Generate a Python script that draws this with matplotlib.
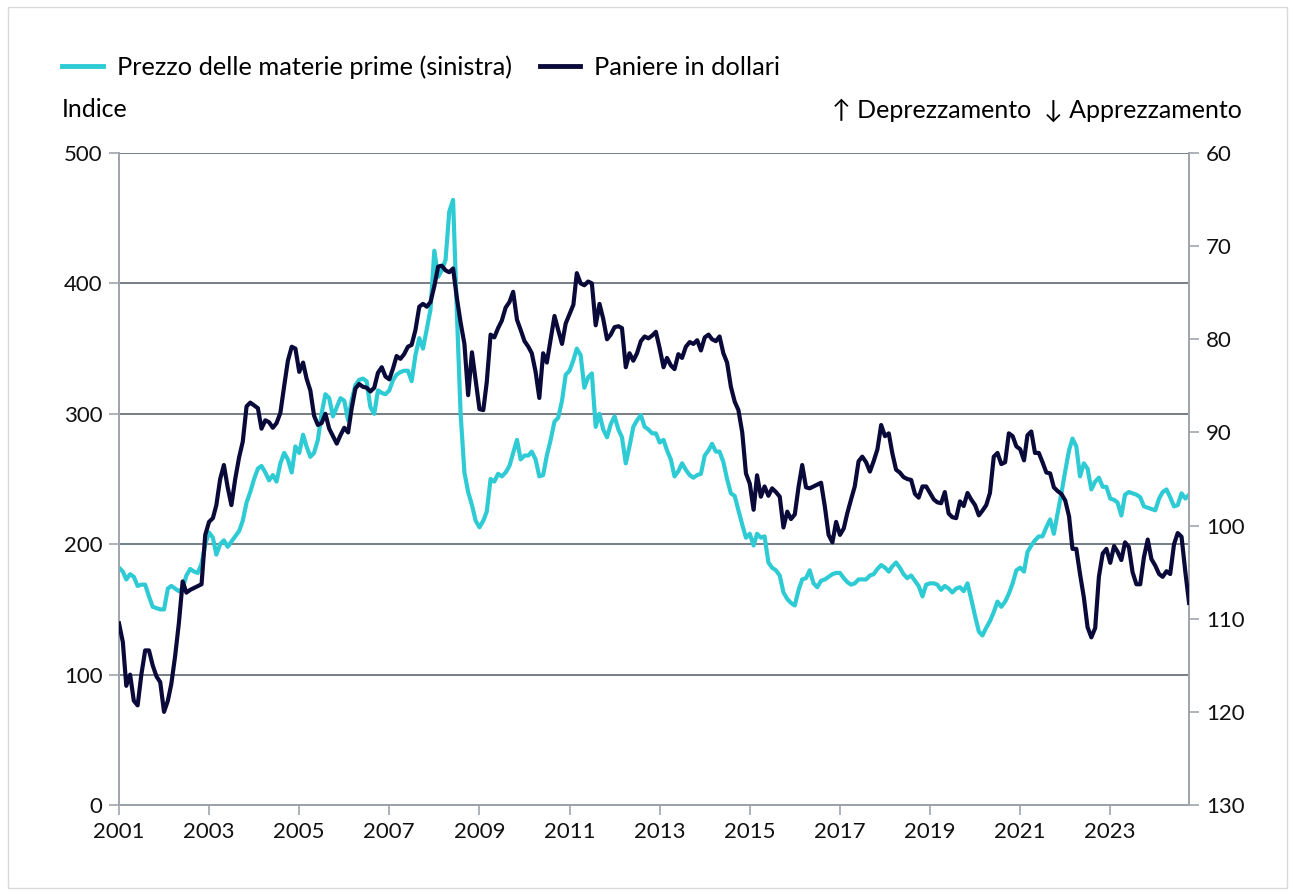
import numpy as np
import pandas as pd
import matplotlib
matplotlib.use("agg")
import matplotlib.pyplot as plt
import matplotlib.dates as mdates
from matplotlib.lines import Line2D

plt.rcParams["font.family"] = ["Lato", "DejaVu Sans"]

# monthly values, Jan 2001 - Oct 2024
COMMODITY = [
	182, 179, 173, 177, 175, 168, 169, 169, 160, 152, 151, 150,   # 2001
	150, 166, 168, 166, 164, 166, 176, 181, 179, 178, 185, 200,   # 2002
	209, 205, 192, 200, 203, 198, 202, 206, 210, 218, 232, 240,   # 2003
	250, 258, 260, 255, 249, 253, 248, 262, 270, 265, 255, 275,   # 2004
	270, 284, 275, 267, 270, 280, 300, 315, 312, 298, 305, 312,   # 2005
	310, 295, 310, 322, 326, 327, 325, 305, 300, 318, 316, 315,   # 2006
	318, 326, 330, 332, 333, 333, 325, 345, 358, 350, 365, 380,   # 2007
	425, 405, 410, 418, 455, 464, 380, 300, 255, 240, 230, 218,   # 2008
	213, 218, 225, 250, 248, 254, 252, 255, 260, 270, 280, 265,   # 2009
	268, 268, 271, 265, 252, 253, 268, 280, 294, 297, 310, 330,   # 2010
	333, 341, 350, 345, 320, 328, 331, 290, 300, 288, 282, 292,   # 2011
	298, 288, 282, 262, 275, 290, 295, 299, 290, 288, 285, 285,   # 2012
	278, 280, 272, 265, 252, 256, 262, 257, 253, 251, 253, 254,   # 2013
	268, 272, 277, 271, 271, 263, 250, 239, 237, 226, 215, 205,   # 2014
	208, 199, 208, 205, 206, 186, 182, 180, 176, 163, 158, 155,   # 2015
	153, 165, 173, 174, 180, 170, 167, 172, 173, 175, 177, 178,   # 2016
	178, 174, 171, 169, 170, 173, 173, 173, 176, 177, 181, 184,   # 2017
	182, 179, 183, 186, 182, 177, 174, 176, 172, 168, 160, 169,   # 2018
	170, 170, 169, 165, 168, 166, 163, 166, 167, 164, 170, 158,   # 2019
	145, 133, 130, 136, 141, 148, 156, 152, 156, 162, 170, 180,   # 2020
	182, 179, 194, 199, 203, 206, 206, 213, 219, 208, 224, 239,   # 2021
	256, 272, 281, 275, 252, 262, 258, 242, 248, 251, 244, 244,   # 2022
	235, 234, 232, 222, 238, 240, 239, 238, 236, 229, 228, 227,   # 2023
	226, 235, 240, 242, 236, 229, 230, 239, 235, 238,             # 2024
]

DOLLAR_BASKET = [
	110.5, 112.5, 117.2, 116.0, 118.8, 119.3, 116.0, 113.4, 113.4, 115.0, 116.2, 116.8,   # 2001
	120.0, 118.8, 117.0, 114.0, 110.5, 106.0, 107.2, 106.9, 106.7, 106.5, 106.3, 101.0,   # 2002
	99.6, 99.2, 97.8, 95.0, 93.5, 95.9, 97.8, 95.0, 92.7, 91.0, 87.2, 86.8,   # 2003
	87.1, 87.4, 89.6, 88.7, 88.9, 89.5, 89.0, 87.9, 85.0, 82.3, 80.8, 81.0,   # 2004
	83.5, 82.5, 84.2, 85.5, 88.2, 89.2, 89.0, 88.0, 89.6, 90.4, 91.2, 90.3,   # 2005
	89.5, 90.0, 87.5, 85.3, 84.8, 85.1, 85.2, 85.6, 85.2, 83.6, 83.0, 84.0,   # 2006
	84.3, 83.1, 81.8, 82.1, 81.6, 80.8, 80.6, 79.0, 76.5, 76.2, 76.5, 76.0,   # 2007
	74.3, 72.2, 72.1, 72.6, 72.8, 72.4, 75.5, 78.2, 80.5, 86.0, 81.4, 84.4,   # 2008
	87.5, 87.6, 84.6, 79.5, 79.8, 78.8, 78.0, 76.6, 76.0, 74.9, 77.9, 79.0,   # 2009
	80.2, 80.8, 81.5, 83.5, 86.3, 81.5, 82.5, 80.0, 77.5, 79.0, 80.5, 78.3,   # 2010
	77.3, 76.3, 72.9, 74.0, 74.2, 73.8, 74.0, 78.5, 76.2, 77.8, 80.0, 79.5,   # 2011
	78.7, 78.6, 78.8, 83.0, 81.5, 82.3, 81.5, 80.2, 79.7, 79.9, 79.6, 79.2,   # 2012
	81.0, 83.0, 82.0, 82.8, 83.2, 81.6, 82.0, 80.8, 80.3, 80.5, 80.1, 81.2,   # 2013
	79.8, 79.5, 80.0, 80.2, 79.7, 81.5, 82.5, 85.1, 86.7, 87.6, 90.0, 94.4,   # 2014
	95.5, 98.3, 94.6, 96.9, 95.8, 96.8, 96.0, 96.4, 96.9, 100.2, 98.5, 99.3,   # 2015
	98.8, 95.8, 93.5, 95.9, 96.0, 95.8, 95.6, 95.4, 98.0, 101.0, 101.8, 99.6,   # 2016
	101.0, 100.3, 98.7, 97.2, 95.8, 93.1, 92.6, 93.2, 94.2, 93.1, 91.8, 89.2,   # 2017
	90.4, 90.1, 92.2, 94.0, 94.3, 94.8, 95.0, 95.1, 96.6, 97.0, 95.8, 95.8,   # 2018
	96.5, 97.2, 97.5, 97.6, 96.4, 98.7, 99.1, 99.2, 97.4, 97.9, 96.5, 97.2,   # 2019
	97.8, 98.9, 98.4, 97.8, 96.5, 92.6, 92.2, 93.4, 93.2, 90.1, 90.4, 91.5,   # 2020
	91.8, 93.0, 90.3, 89.9, 92.2, 92.2, 93.2, 94.3, 94.4, 95.9, 96.3, 96.6,   # 2021
	97.3, 99.0, 102.5, 102.5, 105.2, 107.7, 110.9, 112.0, 111.0, 105.5, 103.0, 102.5,   # 2022
	104.0, 102.2, 102.8, 103.7, 101.8, 102.3, 105.0, 106.3, 106.3, 103.4, 101.5, 103.6,   # 2023
	104.3, 105.2, 105.5, 104.9, 105.2, 102.0, 100.8, 101.2, 105.0, 108.3,   # 2024
]

DATES = pd.date_range("2001-01-01", periods=len(COMMODITY), freq="MS")
TICK_YEARS = list(range(2001, 2024, 2))

CYAN = "#2ecbd4"
NAVY = "#0a0a3a"
GREY = "#6b737c"

fig = plt.figure(figsize=(12.95, 8.93), dpi=100)
ax = fig.add_axes([0.0919, 0.0985, 0.8263, 0.7302])
ax2 = ax.twinx()

ax.plot(DATES, COMMODITY, color=CYAN, lw=3, zorder=3)
ax2.plot(DATES, DOLLAR_BASKET, color=NAVY, lw=3, zorder=3)

ax.set_ylim(0, 500)
ax.set_yticks(range(0, 501, 100))
ax2.set_ylim(130, 60)
ax2.set_yticks(range(60, 131, 10))
ax.set_xlim(DATES[0], DATES[-1])
ax.set_xticks([pd.Timestamp(f"{y}-01-01") for y in TICK_YEARS])
ax.xaxis.set_major_formatter(mdates.DateFormatter("%Y"))

ax.grid(axis="y", color=GREY, lw=1.3)
ax.set_axisbelow(True)
for a in (ax, ax2):
	a.spines["top"].set_visible(False)
	for s in ("left", "right", "bottom"):
		a.spines[s].set_color("#a0a6ad")
		a.spines[s].set_linewidth(1.3)
	a.tick_params(colors="#a0a6ad", labelcolor="#111111", labelsize=16, length=7, width=1.2, pad=5)
ax.spines["bottom"].set_color(GREY)
ax.tick_params(axis="x", pad=5)

# legend on top
handles = [Line2D([], [], color=CYAN, lw=3.5), Line2D([], [], color=NAVY, lw=3.5)]
fig.legend(handles, ["Prezzo delle materie prime (sinistra)", "Paniere in dollari"],
	loc="center left", bbox_to_anchor=(0.0479, 0.925), ncol=2, frameon=False,
	borderpad=0, borderaxespad=0,
	fontsize=18.3, handlelength=1.6, handletextpad=0.55, columnspacing=1.1)

fig.text(0.048, 0.877, "Indice", fontsize=18, va="center", ha="left")
fig.text(0.959, 0.877, "\u2191 Deprezzamento  \u2193 Apprezzamento", fontsize=18,
	va="center", ha="right")

# thin frame round the figure
fig.patches.append(plt.Rectangle((0.006, 0.006), 0.988, 0.986, transform=fig.transFigure,
	fill=False, edgecolor="#d9d9d9", lw=1))

plt.savefig("out.png", dpi=100)
